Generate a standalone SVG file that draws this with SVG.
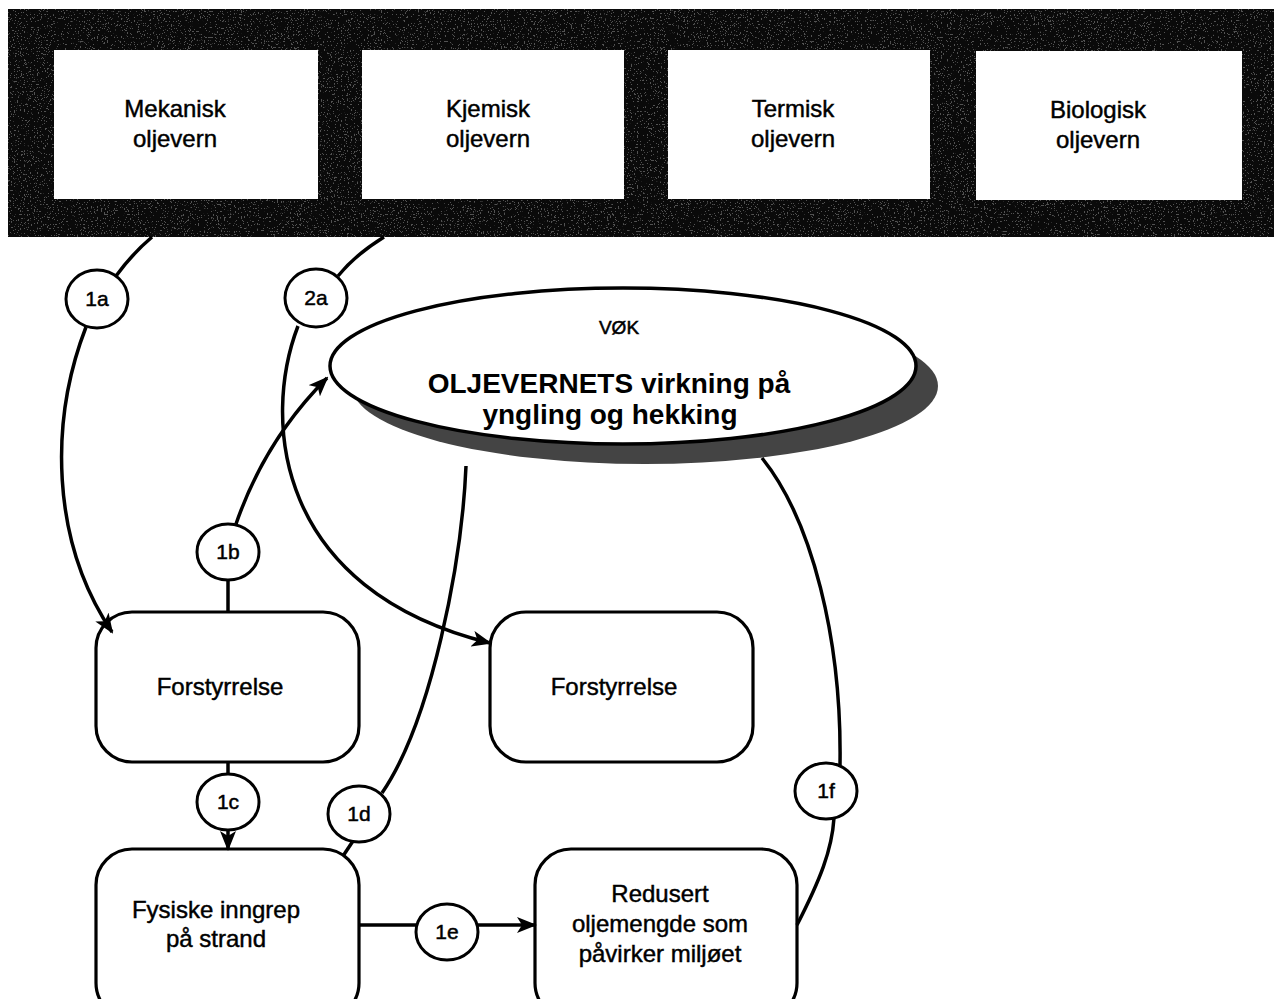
<svg xmlns="http://www.w3.org/2000/svg" width="1274" height="999" viewBox="0 0 1274 999">
<style>
.t{font-family:"Liberation Sans",Arial,sans-serif;font-size:24px;fill:#000;stroke:#000;stroke-width:0.45;text-anchor:middle}
.c{font-family:"Liberation Sans",Arial,sans-serif;font-size:21px;fill:#000;stroke:#000;stroke-width:0.5;text-anchor:middle}
.b{font-family:"Liberation Sans",Arial,sans-serif;font-size:28px;font-weight:bold;fill:#000;text-anchor:middle}
.box{fill:#fff;stroke:none}
.rb{fill:#fff;stroke:#000;stroke-width:3.2}
.lbl{fill:#fff;stroke:#000;stroke-width:3}
.ln{fill:none;stroke:#000;stroke-width:3.5}
</style>
<defs>
<marker id="ah" markerUnits="userSpaceOnUse" markerWidth="20" markerHeight="16" refX="18" refY="8" orient="auto">
<path d="M0,0 L20,8 L0,16 L5,8 Z" fill="#000"/>
</marker>
<filter id="speck" x="0" y="0" width="1" height="1">
<feTurbulence type="fractalNoise" baseFrequency="0.7" numOctaves="2" seed="3" result="n"/>
<feColorMatrix in="n" type="matrix" values="0 0 0 0 0.7  0 0 0 0 0.7  0 0 0 0 0.7  0 0 0 -25 9"/>
</filter>
</defs>
<rect width="1274" height="999" fill="#fff"/>
<g id="band">
<rect x="8" y="9" width="1266" height="228" fill="#0a0a0a"/>
<rect x="8" y="9" width="1266" height="228" filter="url(#speck)" opacity="0.35"/>
</g>
<g id="mekanisk">
<rect class="box" x="54" y="50" width="264" height="149"/>
<text class="t" x="175" y="117">Mekanisk</text>
<text class="t" x="175" y="147">oljevern</text>
</g>
<g id="kjemisk">
<rect class="box" x="362" y="50" width="262" height="149"/>
<text class="t" x="488" y="117">Kjemisk</text>
<text class="t" x="488" y="147">oljevern</text>
</g>
<g id="termisk">
<rect class="box" x="668" y="50" width="262" height="149"/>
<text class="t" x="793" y="117">Termisk</text>
<text class="t" x="793" y="147">oljevern</text>
</g>
<g id="biologisk">
<rect class="box" x="976" y="51" width="266" height="149"/>
<text class="t" x="1098" y="118">Biologisk</text>
<text class="t" x="1098" y="148">oljevern</text>
</g>
<g id="vok">
<ellipse cx="645" cy="386" rx="293" ry="78" fill="#444"/>
<ellipse cx="623" cy="366" rx="293" ry="78" fill="#fff" stroke="#000" stroke-width="3.5"/>
<text class="c" x="619" y="334" style="font-size:19px">VØK</text>
<text class="b" x="609" y="393">OLJEVERNETS virkning på</text>
<text class="b" x="610" y="424">yngling og hekking</text>
</g>
<g id="forstyrrelse1">
<rect class="rb" x="96" y="612" width="263" height="150" rx="36"/>
<text class="t" x="220" y="695">Forstyrrelse</text>
</g>
<g id="forstyrrelse2">
<rect class="rb" x="490" y="612" width="263" height="150" rx="36"/>
<text class="t" x="614" y="695">Forstyrrelse</text>
</g>
<g id="fysiske">
<rect class="rb" x="96" y="849" width="263" height="170" rx="36"/>
<text class="t" x="216" y="918">Fysiske inngrep</text>
<text class="t" x="216" y="947">på strand</text>
</g>
<g id="redusert">
<rect class="rb" x="535" y="849" width="262" height="170" rx="36"/>
<text class="t" x="660" y="902">Redusert</text>
<text class="t" x="660" y="932">oljemengde som</text>
<text class="t" x="660" y="962">påvirker miljøet</text>
</g>
<g id="connectors">
<path class="ln" d="M152,237 Q132,254 116,276"/>
<path class="ln" d="M86,327 C50,420 50,540 112,632" marker-end="url(#ah)"/>
<path class="ln" d="M384,237 Q355,255 338,276"/>
<path class="ln" d="M298,326 C262,420 275,590 490,643" marker-end="url(#ah)"/>
<path class="ln" d="M228,612 L228,580"/>
<path class="ln" d="M236,524 Q265,440 327,378" marker-end="url(#ah)"/>
<path class="ln" d="M228,762 L228,775"/>
<path class="ln" d="M228,830 L228,849" marker-end="url(#ah)"/>
<path class="ln" d="M343,856 L353,841"/>
<path class="ln" d="M382,793 C432,720 462,560 466,466"/>
<path class="ln" d="M359,925 L416,925"/>
<path class="ln" d="M478,925 L535,925" marker-end="url(#ah)"/>
<path class="ln" d="M797,925 C820,880 832,850 834,818"/>
<path class="ln" d="M840,765 C842,640 812,520 762,458"/>
</g>
<g id="labels">
<ellipse class="lbl" cx="97" cy="299" rx="31" ry="29"/><text class="c" x="97" y="306">1a</text>
<ellipse class="lbl" cx="316" cy="298" rx="31" ry="29"/><text class="c" x="316" y="305">2a</text>
<ellipse class="lbl" cx="228" cy="552" rx="31" ry="28"/><text class="c" x="228" y="559">1b</text>
<ellipse class="lbl" cx="228" cy="802" rx="31" ry="28"/><text class="c" x="228" y="809">1c</text>
<ellipse class="lbl" cx="359" cy="814" rx="31" ry="28"/><text class="c" x="359" y="821">1d</text>
<ellipse class="lbl" cx="447" cy="932" rx="31" ry="28"/><text class="c" x="447" y="939">1e</text>
<ellipse class="lbl" cx="826" cy="791" rx="31" ry="28"/><text class="c" x="826" y="798">1f</text>
</g>
</svg>
